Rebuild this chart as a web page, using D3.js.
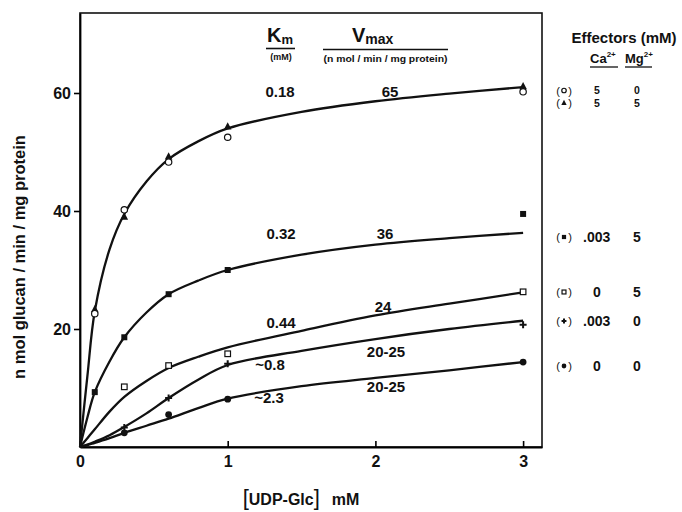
<!DOCTYPE html>
<html><head><meta charset="utf-8">
<script src="https://cdn.jsdelivr.net/npm/d3@7"></script>
<style>
html,body{margin:0;padding:0;background:#fff;}
svg{display:block;font-family:"Liberation Sans",Arial,sans-serif;font-weight:bold;}
</style></head>
<body>
<script>
// ---- data ----
const xTicks = [0, 1, 2, 3];
const yTicks = [20, 40, 60];
const curveX = [0, 0.05, 0.1, 0.2, 0.3, 0.45, 0.6, 0.8, 1, 1.5, 2, 2.5, 3];
const curveA = [0, 12, 23, 33.5, 39.5, 45, 48.8, 51.8, 54, 56.8, 58.6, 59.9, 61];     // Km 0.18
const curveB = [0, 5, 9.3, 14.5, 18.6, 22.8, 25.9, 28.2, 30, 32.6, 34.3, 35.4, 36.3];  // Km 0.32
const curveC = [0, 1.5, 3, 6, 8.5, 11.2, 13.4, 15.3, 16.9, 19.7, 22.3, 24.3, 26.2];   // Km 0.44
const curveD = [0, 0.4, 0.9, 2, 3.4, 5.7, 8.3, 11.4, 13.9, 16.3, 18.3, 20, 21.4];     // ~0.8
const curveE = [0, 0.3, 0.7, 1.5, 2.4, 3.6, 4.8, 6.6, 8.2, 10.3, 11.7, 13, 14.4];     // ~2.3

const ptX5 = [0.1, 0.3, 0.6, 1, 3];
const ptX4 = [0.3, 0.6, 1, 3];
const openCircleY = [22.6, 40.2, 48.3, 52.5, 60.2];
const triangleY = [23.3, 39, 49.2, 54.3, 61.1];
const filledSquareY = [9.3, 18.6, 25.9, 30, 39.5];
const openSquareY = [10.2, 13.8, 15.8, 26.3];
const plusY = [3.3, 8.3, 14.1, 20.7];
const dotY = [2.4, 5.5, 8.1, 14.4];

const kmLabels = ["0.18", "0.32", "0.44", "~0.8", "~2.3"];
const vmaxLabels = ["65", "36", "24", "20-25", "20-25"];
const legendCa = ["5", "5", ".003", "0", ".003", "0"];
const legendMg = ["0", "5", "5", "5", "0", "0"];
const legendSym = ["openCircle", "triangle", "filledSquare", "openSquare", "plus", "dot"];

// ---- layout ----
const W = 682, H = 512;
const L = 80, T = 13, R = 542, B = 447;
const svg = d3.select("body").append("svg").attr("width", W).attr("height", H);
const x = d3.scaleLinear().domain([0, (R - L) / 147.7]).range([L, R]);
const y = d3.scaleLinear().domain([0, (B - T) / 5.9]).range([B, T]);

// frame
svg.append("rect").attr("x", L).attr("y", T).attr("width", R - L).attr("height", B - T)
  .attr("fill", "none").attr("stroke", "#111").attr("stroke-width", 1.6);

// axes
const xAxis = svg.append("g").attr("transform", `translate(0,${B})`)
  .call(d3.axisBottom(x).tickValues(xTicks).tickSizeInner(-6).tickSizeOuter(0).tickPadding(9).tickFormat(d3.format("d")));
xAxis.select(".domain").attr("stroke-width", 1.8);
xAxis.selectAll(".tick line").attr("stroke-width", 1.6);
xAxis.selectAll("text").attr("font-size", 16).attr("font-weight", "bold").attr("fill", "#111")
  .attr("font-family", "Liberation Sans, Arial, sans-serif");

const yAxis = svg.append("g").attr("transform", `translate(${L},0)`)
  .call(d3.axisLeft(y).tickValues(yTicks).tickSizeInner(6).tickSizeOuter(0).tickPadding(3));
yAxis.select(".domain").attr("stroke-width", 1.8);
yAxis.selectAll(".tick line").attr("stroke-width", 1.6);
yAxis.selectAll("text").attr("font-size", 16).attr("font-weight", "bold").attr("fill", "#111")
  .attr("font-family", "Liberation Sans, Arial, sans-serif");

// axis titles
svg.append("text").attr("transform", "translate(25,257) rotate(-90)").attr("text-anchor", "middle")
  .attr("font-size", 16.5).attr("fill", "#111").text("n mol glucan / min / mg protein");
const xt = svg.append("text").attr("x", 301).attr("y", 505).attr("text-anchor", "middle").attr("fill", "#111");
xt.append("tspan").attr("font-size", 22).attr("font-weight", "normal").text("[");
xt.append("tspan").attr("font-size", 16).text("UDP-Glc");
xt.append("tspan").attr("font-size", 22).attr("font-weight", "normal").text("]");
xt.append("tspan").attr("font-size", 16).attr("dx", 12).text("mM");

// curves
const line = d3.line().x(d => x(d[0])).y(d => y(d[1])).curve(d3.curveCatmullRom.alpha(0.5));
[curveA, curveB, curveC, curveD, curveE].forEach(cv => {
  svg.append("path").datum(curveX.map((v, i) => [v, cv[i]])).attr("d", line)
    .attr("fill", "none").attr("stroke", "#111").attr("stroke-width", 2.3);
});

// markers
function marker(g, type, cx, cy, s) {
  s = s || 1;
  if (type === "openCircle") g.append("circle").attr("cx", cx).attr("cy", cy).attr("r", 3.2 * s).attr("fill", "#fff").attr("stroke", "#111").attr("stroke-width", 1.2);
  else if (type === "dot") g.append("circle").attr("cx", cx).attr("cy", cy).attr("r", 3.4 * s).attr("fill", "#111");
  else if (type === "triangle") g.append("path").attr("d", `M${cx},${cy - 4.5 * s}L${cx + 3.8 * s},${cy + 2.8 * s}L${cx - 3.8 * s},${cy + 2.8 * s}Z`).attr("fill", "#111");
  else if (type === "filledSquare") g.append("rect").attr("x", cx - 3 * s).attr("y", cy - 3 * s).attr("width", 6 * s).attr("height", 6 * s).attr("fill", "#111");
  else if (type === "openSquare") g.append("rect").attr("x", cx - 2.8 * s).attr("y", cy - 2.8 * s).attr("width", 5.6 * s).attr("height", 5.6 * s).attr("fill", "#fff").attr("stroke", "#111").attr("stroke-width", 1.2);
  else if (type === "plus") {
    g.append("path").attr("d", `M${cx - 3.5 * s},${cy}H${cx + 3.5 * s}M${cx},${cy - 3.5 * s}V${cy + 3.5 * s}`).attr("stroke", "#111").attr("stroke-width", 2);
  }
}
const mk = svg.append("g");
ptX5.forEach((v, i) => marker(mk, "triangle", x(v), y(triangleY[i])));
ptX5.forEach((v, i) => marker(mk, "openCircle", x(v), y(openCircleY[i])));
ptX5.forEach((v, i) => marker(mk, "filledSquare", x(v), y(filledSquareY[i])));
ptX4.forEach((v, i) => marker(mk, "openSquare", x(v), y(openSquareY[i])));
ptX4.forEach((v, i) => marker(mk, "plus", x(v), y(plusY[i])));
ptX4.forEach((v, i) => marker(mk, "dot", x(v), y(dotY[i])));

// Km / Vmax header
const hdr = svg.append("g").attr("fill", "#111");
const km = hdr.append("text").attr("x", 267).attr("y", 42);
km.append("tspan").attr("font-size", 20).text("K");
km.append("tspan").attr("font-size", 13).attr("dy", 2).text("m");
hdr.append("line").attr("x1", 266).attr("x2", 295).attr("y1", 48.5).attr("y2", 48.5).attr("stroke", "#111").attr("stroke-width", 1.6);
hdr.append("text").attr("x", 281).attr("y", 60).attr("text-anchor", "middle").attr("font-size", 9).text("(mM)");
const vm = hdr.append("text").attr("x", 352).attr("y", 42);
vm.append("tspan").attr("font-size", 20).text("V");
vm.append("tspan").attr("font-size", 14).attr("dy", 2).text("max");
hdr.append("line").attr("x1", 323).attr("x2", 448).attr("y1", 49.5).attr("y2", 49.5).attr("stroke", "#111").attr("stroke-width", 1.6);
hdr.append("text").attr("x", 385.5).attr("y", 62).attr("text-anchor", "middle").attr("font-size", 9.5)
  .attr("textLength", 124).attr("lengthAdjust", "spacingAndGlyphs").text("(n mol / min / mg protein)");

// Km / Vmax values
const kmPos = [[280, 97], [281, 239], [281, 328], [270, 370], [269, 403]];
const vmPos = [[390, 97], [385, 239], [383, 312], [386, 357], [386, 392]];
kmLabels.forEach((t, i) => hdr.append("text").attr("x", kmPos[i][0]).attr("y", kmPos[i][1]).attr("text-anchor", "middle").attr("font-size", 15).text(t));
vmaxLabels.forEach((t, i) => hdr.append("text").attr("x", vmPos[i][0]).attr("y", vmPos[i][1]).attr("text-anchor", "middle").attr("font-size", 15).text(t));

// effectors legend
const lg = svg.append("g").attr("fill", "#111");
lg.append("text").attr("x", 624).attr("y", 43).attr("text-anchor", "middle").attr("font-size", 15).text("Effectors (mM)");
const ca = lg.append("text").attr("x", 590).attr("y", 63).attr("font-size", 13);
ca.append("tspan").text("Ca");
ca.append("tspan").attr("font-size", 8).attr("dy", -6).text("2+");
const mg = lg.append("text").attr("x", 625).attr("y", 63).attr("font-size", 13);
mg.append("tspan").text("Mg");
mg.append("tspan").attr("font-size", 8).attr("dy", -6).text("2+");
lg.append("line").attr("x1", 590).attr("x2", 618).attr("y1", 67).attr("y2", 67).attr("stroke", "#111").attr("stroke-width", 1.3);
lg.append("line").attr("x1", 625).attr("x2", 652).attr("y1", 67).attr("y2", 67).attr("stroke", "#111").attr("stroke-width", 1.3);
const rowY = [90.5, 103, 237, 292, 321, 366];
legendSym.forEach((s, i) => {
  const yy = rowY[i];
  const fs = i < 2 ? 10.5 : 14;
  lg.append("text").attr("x", 558).attr("y", yy + 4).attr("text-anchor", "middle").attr("font-size", 11).attr("font-weight", "normal").text("(");
  lg.append("text").attr("x", 570).attr("y", yy + 4).attr("text-anchor", "middle").attr("font-size", 11).attr("font-weight", "normal").text(")");
  marker(lg, s, 564, yy, 0.7);
  const dot = legendCa[i].startsWith(".");
  lg.append("text").attr("x", dot ? 583 : 597).attr("y", yy + fs * 0.36).attr("text-anchor", dot ? "start" : "middle").attr("font-size", fs).text(legendCa[i]);
  lg.append("text").attr("x", 637).attr("y", yy + fs * 0.36).attr("text-anchor", "middle").attr("font-size", fs).text(legendMg[i]);
});
</script>
</body></html>
